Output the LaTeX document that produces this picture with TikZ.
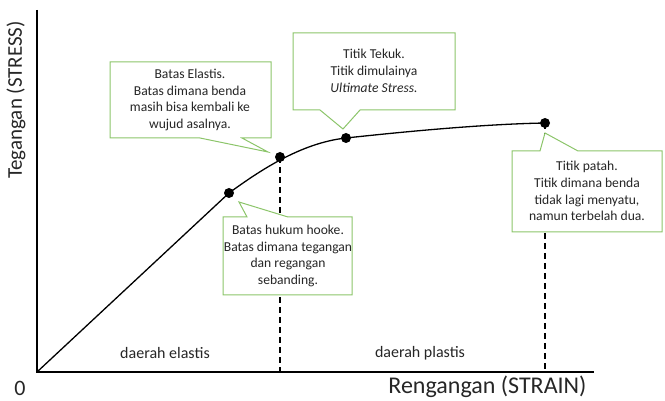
\documentclass[tikz,border=0pt]{standalone}
\usepackage{fontspec}
\setmainfont{Carlito}
\begin{document}
\begin{tikzpicture}[x=1pt,y=-1pt,
  callout/.style={draw=calgreen,fill=white,line width=1pt,line join=miter},
  ctext/.style={align=center,font=\fontsize{13.6}{16.7}\selectfont,text=txtgray,inner sep=0pt},
  dot/.style={circle,fill=black,inner sep=0pt,minimum size=10pt},
  axis/.style={line width=1.3pt},
  curve/.style={line width=1.3pt},
  guide/.style={dashed,line width=1.1pt,dash pattern=on 6pt off 4pt}]
\definecolor{calgreen}{HTML}{8CC56A}
\definecolor{txtgray}{HTML}{262626}
\useasboundingbox (0,0) rectangle (665,401);
% axes
\coordinate (O) at (37,372);
\coordinate (ytop) at (37,10);
\coordinate (xend) at (594,372);
\draw[axis] (ytop) -- (O) -- (xend);
% curve
\node[dot] (p1) at (229,193) {};
\node[dot] (p2) at (280,157) {};
\node[dot] (p3) at (346,138) {};
\node[dot] (p4) at (545,123) {};
\draw[curve] (O) -- (p1.center) .. controls (258,172) and (300,143) .. (p3.center)
  .. controls (420,130) and (490,124) .. (p4.center);
% guides
\coordinate (g2) at (280,372);
\coordinate (g4) at (545,372);
\draw[guide] (p2.center) -- (g2);
\draw[guide] (p4.center) -- (g4);
% callouts
\draw[callout] (110,62) -- (271,62) -- (271,138) -- (242,138) -- (268,152) -- (200,138) -- (110,138) -- cycle;
\node[ctext] (t1) at (190,100) {Batas Elastis.\\Batas dimana benda\\masih bisa kembali ke\\wujud asalnya.};
\draw[callout] (293,33) -- (455,33) -- (455,110) -- (360,110) -- (343,129) -- (320,110) -- (293,110) -- cycle;
\node[ctext] (t2) at (374,71) {Titik Tekuk.\\Titik dimulainya\\\textit{Ultimate Stress.}};
\draw[callout] (512,151) -- (540,151) -- (545,133) -- (578,151) -- (662,151) -- (662,232) -- (512,232) -- cycle;
\node[ctext] (t3) at (587,191) {Titik patah.\\Titik dimana benda\\tidak lagi menyatu,\\namun terbelah dua.};
\draw[callout] (223,217) -- (247,217) -- (239,202) -- (288,217) -- (352,217) -- (352,295) -- (223,295) -- cycle;
\node[ctext] (t4) at (288,256) {Batas hukum hooke.\\Batas dimana tegangan\\dan regangan\\sebanding.};
% labels
\node[font=\fontsize{16}{19}\selectfont,text=txtgray] (de) at (165,353) {daerah elastis};
\node[font=\fontsize{16}{19}\selectfont,text=txtgray] (dp) at (420,353) {daerah plastis};
\node[font=\fontsize{22}{26}\selectfont,text=txtgray] (zero) at (20,388) {0};
\node[font=\fontsize{24}{28}\selectfont,text=txtgray,anchor=east] (xl) at (590,387) {Rengangan (STRAIN)};
\node[font=\fontsize{21}{25}\selectfont,text=txtgray,rotate=90] (yl) at (16,100) {Tegangan (STRESS)};
\end{tikzpicture}
\end{document}
